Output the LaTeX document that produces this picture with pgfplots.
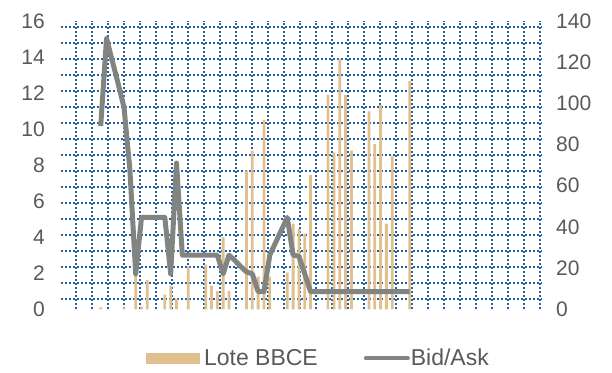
\documentclass[border=0pt]{standalone}
\usepackage{fontspec}
\setmainfont{Liberation Sans}
\usepackage{pgfplots}
\usepackage{pgfplotstable}
\pgfplotsset{compat=1.18}
\definecolor{barc}{RGB}{223,192,142}
\definecolor{linec}{RGB}{130,132,130}
\definecolor{gridc}{RGB}{36,96,156}
\definecolor{tickc}{RGB}{89,89,89}

\pgfplotstableread{
x y
0 0.1
4 0.1
6 2.03
7 0.15
8 1.62
11 0.81
12 1.32
13 0.56
15 2.38
18 2.48
19 1.32
20 1.01
21 4.0
22 1.01
25 7.7
26 8.81
27 1.82
28 10.53
29 1.82
32 2.03
33 4.76
34 4.46
35 4.2
36 7.45
39 11.9
40 8.71
41 13.88
42 11.9
43 8.81
46 10.99
47 9.17
48 11.35
49 4.76
50 8.51
53 12.66
}\bars

\pgfplotstableread{
x y
0 89
1 131.5
2 120.5
3 109.5
4 98
5 68
6 17.2
7 44.6
8 44.6
9 44.6
10 44.6
11 44.6
12 17.2
13 71
14 26.3
15 26.3
16 26.3
17 26.3
18 26.3
19 26.3
20 26.3
21 17.2
22 26.3
23 23.8
24 20.8
25 18.2
26 17.2
27 8.6
28 8.6
29 26.3
30 32.4
31 38.5
32 44.6
33 26.3
34 25.8
35 17.2
36 8.6
37 8.6
38 8.6
39 8.6
40 8.6
41 8.6
42 8.6
43 8.6
44 8.6
45 8.6
46 8.6
47 8.6
48 8.6
49 8.6
50 8.6
51 8.6
52 8.6
53 8.6
}\bidask

\pgfplotsset{
  base/.style={
    at={(61pt,62.7pt)}, anchor=south west,
    width=481pt, height=288.3pt, scale only axis,
    axis line style={draw=none},
    major tick length=0pt,
    /pgf/number format/assume math mode=true,
    ticklabel style={font=\fontsize{21}{25}\selectfont, text=tickc},
  }
}

\begin{document}
\begin{tikzpicture}[x=1pt,y=1pt]
\path[use as bounding box] (0,0) rectangle (612,372);

% dotted pattern grid (pixel coordinates)
\begin{axis}[base,
  xmin=61, xmax=542, ymin=62.7, ymax=351,
  xtick={76,92,...,540.1}, ytick={73,89,...,345.1},
  xticklabels={}, yticklabels={},
  grid=major,
  grid style={gridc, line width=2pt, dash pattern=on 2pt off 2pt},
]
\end{axis}

% bars, left axis
\begin{axis}[base,
  xmin=-6.81, xmax=75.69, ymin=0, ymax=16,
  axis x line=none, axis y line*=left,
  ytick={0,2,...,16},
  yticklabel style={anchor=east, inner sep=0pt, xshift=-16pt},
]
\addplot[ybar, bar width=2.8pt, fill=barc, draw=none] table[x=x,y=y] {\bars};
\end{axis}

% line, right axis
\begin{axis}[base,
  xmin=-6.81, xmax=75.69, ymin=0, ymax=140,
  axis x line=none, axis y line*=right,
  ytick={0,20,...,140},
  yticklabel style={anchor=west, inner sep=0pt, xshift=14pt},
  legend columns=2,
  legend style={at={(0.534,-0.17)}, anchor=center, draw=none, fill=none,
    font=\fontsize{23}{27}\selectfont, text=tickc,
    nodes={inner sep=1pt},
    /tikz/every even column/.append style={column sep=45pt}},
]
\addlegendimage{legend image code/.code={
  \path[draw=none,fill=none] (0pt,-6pt) rectangle (57pt,6pt);
  \fill[barc] (0pt,-5pt) rectangle (53pt,5pt);}}
\addlegendentry{Lote BBCE}
\addplot[linec, line width=5pt, line join=round,
  legend image code/.code={
    \path[draw=none,fill=none] (0pt,-6pt) rectangle (45pt,6pt);
    \draw[linec, line width=4pt, line cap=round] (2pt,0pt) -- (44pt,0pt);}]
  table[x=x,y=y] {\bidask};
\addlegendentry{Bid/Ask}
\end{axis}
\end{tikzpicture}
\end{document}
